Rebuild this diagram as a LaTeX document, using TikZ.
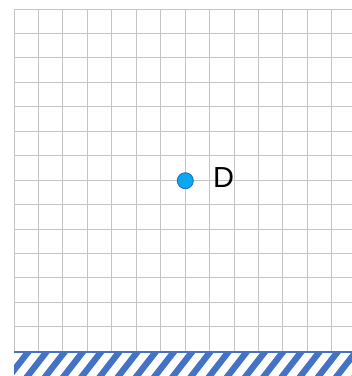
\documentclass[tikz,border=0pt]{standalone}
\usepackage{fontspec}
\setmainfont{Liberation Sans}
\definecolor{gridgray}{HTML}{C4C4C4}
\definecolor{dotfill}{HTML}{0AA8EE}
\definecolor{dotedge}{HTML}{1F70C4}
\definecolor{bandblue}{HTML}{4472C4}
\begin{document}
\begin{tikzpicture}[x=1pt,y=-1pt,
  gridline/.style={draw=gridgray,line width=1pt},
  hatchline/.style={draw=bandblue,line width=6.3pt},
  bandline/.style={draw=bandblue,line width=2pt},
  dot/.style={circle,fill=dotfill,draw=dotedge,line width=0.9pt,minimum size=16pt,inner sep=0pt},
  lbl/.style={inner sep=0pt,font=\fontsize{29}{32}\selectfont}]
\useasboundingbox (0,0) rectangle (352,376);
\foreach \i in {0,...,13} \draw[gridline] ({14+24.45*\i},9) -- ({14+24.45*\i},351);
\foreach \j in {0,...,13} \draw[gridline] (14,{9+24.45*\j}) -- (352,{9+24.45*\j});
\begin{scope}
  \clip (14,353.5) rectangle (352,376);
  \foreach \k in {-1,...,20} \draw[hatchline] ({9.4+18.2*\k-2},378.6) -- ({9.4+18.2*\k+20},350.4);
\end{scope}
\draw[bandline] (14,351.6) -- (352,351.6);
\node[dot] (d) at (185.3,180.7) {};
\node[lbl] (dlabel) at (223.7,177.8) {D};
\end{tikzpicture}
\end{document}
